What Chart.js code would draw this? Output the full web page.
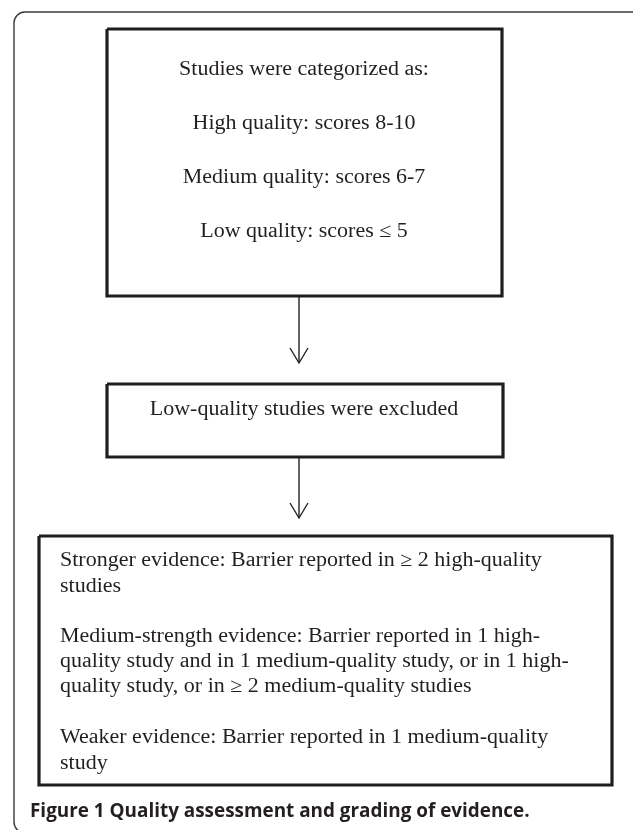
<!DOCTYPE html>
<html>
<head>
<meta charset="utf-8">
<script src="https://cdn.jsdelivr.net/npm/chart.js@4/dist/chart.umd.min.js"></script>
<style>
    html, body { margin: 0; padding: 0; background: #ffffff; }
    canvas { display: block; }
</style>
</head>
<body>
<canvas id="flow" width="633" height="830"></canvas>
<script>
// text content of the flow chart
const topBoxLines = [
    "Studies were categorized as:",
    "High quality: scores 8-10",
    "Medium quality: scores 6-7",
    "Low quality: scores \u2264 5"
];
const middleBoxLines = ["Low-quality studies were excluded"];
const bottomBoxParagraphs = [
    ["Stronger evidence: Barrier reported in \u2265 2 high-quality", "studies"],
    ["Medium-strength evidence: Barrier reported in 1 high-",
     "quality study and in 1 medium-quality study, or in 1 high-",
     "quality study, or in \u2265 2 medium-quality studies"],
    ["Weaker evidence: Barrier reported in 1 medium-quality", "study"]
];
const captionText = "Figure 1 Quality assessment and grading of evidence.";

// layout, in page units (x 0..633, y 0..830 from top)
const layout = {
    frame: { left: 14, top: 12, right: 643, bottom: 833, radius: 11 },
    boxes: [
        { left: 107, top: 29, right: 502, bottom: 296 },
        { left: 107, top: 384, right: 503, bottom: 457 },
        { left: 39, top: 536, right: 612, bottom: 785 }
    ],
    arrows: [
        { x: 299, from: 296, to: 363 },
        { x: 299, from: 457, to: 518 }
    ],
    topBaselines: [75, 129, 183, 237],
    middleBaselines: [415],
    bottomBaselines: [[566, 592], [642, 667, 692], [743, 769]],
    bottomTextX: 60,
    centerX: 304,
    captionX: 30,
    captionBaseline: 817,
    captionWidth: 500
};

const inkColor = "#231f20";
const serifFont = '20px "Liberation Serif", "DejaVu Serif", serif';
const serifStretch = 1.1; // the figure's serif face is a little wider than Liberation Serif

const boxDatasets = layout.boxes.map((box) => ({
    data: [
        { x: box.left, y: box.top },
        { x: box.right, y: box.top },
        { x: box.right, y: box.bottom },
        { x: box.left, y: box.bottom },
        { x: box.left, y: box.top }
    ],
    showLine: true,
    borderColor: "#1e1e1e",
    borderWidth: 3.2,
    borderJoinStyle: "miter",
    pointRadius: 0,
    tension: 0
}));

const arrowDatasets = layout.arrows.flatMap((arrow) => [
    {
        data: [{ x: arrow.x, y: arrow.from }, { x: arrow.x, y: arrow.to }],
        showLine: true,
        borderColor: "#222222",
        borderWidth: 1.4,
        pointRadius: 0
    },
    {
        data: [
            { x: arrow.x - 9, y: arrow.to - 15 },
            { x: arrow.x, y: arrow.to },
            { x: arrow.x + 9, y: arrow.to - 15 }
        ],
        showLine: true,
        borderColor: "#222222",
        borderWidth: 1.4,
        borderJoinStyle: "miter",
        pointRadius: 0
    }
]);

function drawStretched(ctx, text, x, y, align) {
    ctx.save();
    ctx.translate(x, y);
    ctx.scale(serifStretch, 1);
    ctx.textAlign = align;
    ctx.fillText(text, 0, 0);
    ctx.restore();
}

const flowTextPlugin = {
    id: "flowText",
    beforeDatasetsDraw(chart) {
        const { ctx, scales } = chart;
        const f = layout.frame;
        const x0 = scales.x.getPixelForValue(f.left);
        const x1 = scales.x.getPixelForValue(f.right);
        const y0 = scales.y.getPixelForValue(f.top);
        const y1 = scales.y.getPixelForValue(f.bottom);
        ctx.save();
        ctx.strokeStyle = "#3a3a3a";
        ctx.lineWidth = 1.4;
        ctx.beginPath();
        ctx.roundRect(x0, y0, x1 - x0, y1 - y0, f.radius);
        ctx.stroke();
        ctx.restore();
    },
    afterDatasetsDraw(chart) {
        const { ctx, scales } = chart;
        const px = (v) => scales.x.getPixelForValue(v);
        const py = (v) => scales.y.getPixelForValue(v);
        ctx.save();
        ctx.fillStyle = inkColor;
        ctx.font = serifFont;
        ctx.textBaseline = "alphabetic";

        topBoxLines.forEach((line, i) => {
            drawStretched(ctx, line, px(layout.centerX), py(layout.topBaselines[i]), "center");
        });
        middleBoxLines.forEach((line, i) => {
            drawStretched(ctx, line, px(layout.centerX), py(layout.middleBaselines[i]), "center");
        });
        bottomBoxParagraphs.forEach((para, p) => {
            para.forEach((line, i) => {
                drawStretched(ctx, line, px(layout.bottomTextX), py(layout.bottomBaselines[p][i]), "left");
            });
        });

        // caption, sized to the width it takes in the figure
        ctx.textAlign = "left";
        ctx.font = 'bold 16px "Open Sans", sans-serif';
        const w = ctx.measureText(captionText).width;
        const size = 16 * layout.captionWidth / w;
        ctx.font = `bold ${size.toFixed(2)}px "Open Sans", sans-serif`;
        ctx.fillText(captionText, px(layout.captionX), py(layout.captionBaseline));
        ctx.restore();
    }
};

new Chart(document.getElementById("flow"), {
    type: "scatter",
    data: { datasets: [...boxDatasets, ...arrowDatasets] },
    options: {
        responsive: false,
        animation: false,
        devicePixelRatio: 1,
        layout: { padding: 0 },
        plugins: {
            legend: { display: false },
            tooltip: { enabled: false }
        },
        scales: {
            x: { type: "linear", min: 0, max: 633, display: false },
            y: { type: "linear", min: 0, max: 830, reverse: true, display: false }
        }
    },
    plugins: [flowTextPlugin]
});
</script>
</body>
</html>
